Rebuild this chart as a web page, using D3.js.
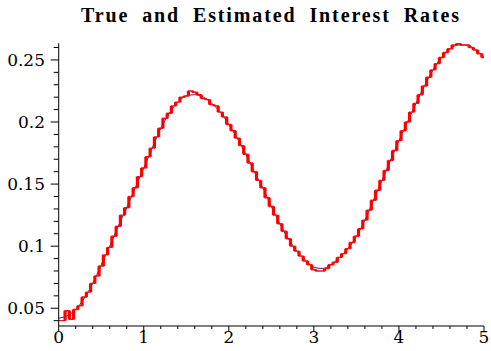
<!DOCTYPE html>
<html><head><meta charset="utf-8">
<script src="https://cdn.jsdelivr.net/npm/d3@7"></script>
<style>html,body{margin:0;padding:0;background:#fff;}svg{display:block;}</style>
</head><body>
<script>
// ---- data ----
const title = "True and Estimated Interest Rates";
const xTicks = [0, 1, 2, 3, 4, 5];
const xTickLabels = ["0", "1", "2", "3", "4", "5"];
const yTicks = [0.05, 0.10, 0.15, 0.20, 0.25];
const yTickLabels = ["0.05", "0.1", "0.15", "0.2", "0.25"];

// true rate, t = 0, 0.1, ..., 5.0
const trueT = [0.0,0.1,0.2,0.3,0.4,0.5,0.6,0.7,0.8,0.9,1.0,1.1,1.2,1.3,1.4,1.5,1.6,1.7,1.8,1.9,2.0,2.1,2.2,2.3,2.4,2.5,2.6,2.7,2.8,2.9,3.0,3.1,3.2,3.3,3.4,3.5,3.6,3.7,3.8,3.9,4.0,4.1,4.2,4.3,4.4,4.5,4.6,4.7,4.8,4.9,5.0];
const trueV = [0.042,0.044,0.049,0.058,0.070,0.085,0.100,0.116,0.131,0.147,0.163,0.179,0.195,0.207,0.216,0.221,0.222,0.220,0.215,0.208,0.198,0.187,0.174,0.160,0.147,0.132,0.118,0.106,0.096,0.089,0.083,0.082,0.085,0.091,0.098,0.108,0.121,0.137,0.153,0.169,0.185,0.200,0.215,0.229,0.242,0.252,0.259,0.262,0.262,0.258,0.252];

// estimated rate, t = 0, 0.05, ..., 5.0
const estT = [0.00,0.05,0.10,0.15,0.20,0.25,0.30,0.35,0.40,0.45,0.50,0.55,0.60,0.65,0.70,0.75,0.80,0.85,0.90,0.95,1.00,1.05,1.10,1.15,1.20,1.25,1.30,1.35,1.40,1.45,1.50,1.55,1.60,1.65,1.70,1.75,1.80,1.85,1.90,1.95,2.00,2.05,2.10,2.15,2.20,2.25,2.30,2.35,2.40,2.45,2.50,2.55,2.60,2.65,2.70,2.75,2.80,2.85,2.90,2.95,3.00,3.05,3.10,3.15,3.20,3.25,3.30,3.35,3.40,3.45,3.50,3.55,3.60,3.65,3.70,3.75,3.80,3.85,3.90,3.95,4.00,4.05,4.10,4.15,4.20,4.25,4.30,4.35,4.40,4.45,4.50,4.55,4.60,4.65,4.70,4.75,4.80,4.85,4.90,4.95,5.00];
const estV = [0.040,0.040,0.048,0.041,0.049,0.052,0.059,0.063,0.070,0.076,0.084,0.093,0.099,0.108,0.116,0.125,0.131,0.140,0.147,0.156,0.163,0.172,0.179,0.188,0.195,0.203,0.207,0.213,0.216,0.220,0.221,0.225,0.224,0.222,0.219,0.218,0.214,0.213,0.208,0.204,0.198,0.193,0.187,0.181,0.174,0.167,0.160,0.153,0.147,0.139,0.132,0.125,0.118,0.112,0.106,0.100,0.096,0.092,0.088,0.085,0.081,0.080,0.080,0.082,0.085,0.087,0.091,0.094,0.098,0.103,0.108,0.114,0.121,0.129,0.137,0.145,0.153,0.161,0.169,0.177,0.185,0.193,0.200,0.208,0.215,0.222,0.229,0.236,0.242,0.247,0.252,0.256,0.259,0.262,0.263,0.262,0.262,0.260,0.258,0.255,0.252];

// ---- drawing ----
const W = 491, H = 351;
const svg = d3.select("body").append("svg").attr("width", W).attr("height", H)
  .style("background", "#fff");

const x = d3.scaleLinear().domain([0, 5]).range([58.7, 484]);
const y = d3.scaleLinear().domain([0.0357, 0.2634]).range([326, 43.3]);

// title
svg.append("text").attr("x", 81).attr("y", 22)
  .attr("textLength", 378).attr("lengthAdjust", "spacing")
  .style("font-family", "'Liberation Serif', serif").style("font-weight", "bold")
  .style("font-size", "20px").style("word-spacing", "6px")
  .attr("fill", "#000").text(title);

// true line
const trueData = trueT.map((t, i) => [t, trueV[i]]);
svg.append("path").datum(trueData)
  .attr("fill", "none").attr("stroke", "#35208a").attr("stroke-width", 1)
  .attr("d", d3.line().x(d => x(d[0])).y(d => y(d[1])).curve(d3.curveMonotoneX));

// estimated: step line (thin horizontals) + thick vertical jumps
const estData = estT.map((t, i) => [t, estV[i]]);
svg.append("path").datum(estData)
  .attr("fill", "none").attr("stroke", "#ff1010").attr("stroke-width", 1.4)
  .attr("d", d3.line().x(d => x(d[0])).y(d => y(d[1])).curve(d3.curveStep));
const jumps = estData.slice(1).map((d, i) => ({t: (d[0] + estData[i][0]) / 2, v0: estData[i][1], v1: d[1]}));
svg.append("g").selectAll("line").data(jumps).join("line")
  .attr("x1", d => x(d.t)).attr("x2", d => x(d.t))
  .attr("y1", d => y(d.v0)).attr("y2", d => y(d.v1))
  .attr("stroke", "#ff0000").attr("stroke-width", 3.2);

// axes
const axG = svg.append("g").attr("stroke", "#000").attr("stroke-width", 1);
axG.append("line").attr("x1", x(0)).attr("x2", x(5)).attr("y1", y.range()[0]).attr("y2", y.range()[0]);
axG.append("line").attr("x1", x(0)).attr("x2", x(0)).attr("y1", y.range()[0]).attr("y2", y.range()[1]);

const xMinor = d3.range(0, 26).map(i => i * 0.2).filter(v => !xTicks.some(t => Math.abs(t - v) < 1e-9));
axG.selectAll(".xmin").data(xMinor).join("line")
  .attr("x1", d => x(d)).attr("x2", d => x(d)).attr("y1", y.range()[0]).attr("y2", y.range()[0] + 3);
axG.selectAll(".xmaj").data(xTicks).join("line")
  .attr("x1", d => x(d)).attr("x2", d => x(d)).attr("y1", y.range()[0]).attr("y2", y.range()[0] + 6);

const yMinor = d3.range(4, 27).map(i => i / 100).filter(v => !yTicks.some(t => Math.abs(t - v) < 1e-9));
axG.selectAll(".ymin").data(yMinor).join("line")
  .attr("x1", x(0) - 5).attr("x2", x(0)).attr("y1", d => y(d)).attr("y2", d => y(d));
axG.selectAll(".ymaj").data(yTicks).join("line")
  .attr("x1", x(0) - 8).attr("x2", x(0)).attr("y1", d => y(d)).attr("y2", d => y(d));

const lblFont = "'DejaVu Serif', serif";
svg.append("g").selectAll("text").data(xTicks).join("text")
  .attr("x", d => x(d)).attr("y", 343).attr("text-anchor", "middle")
  .style("font-family", lblFont).style("font-size", "17px").attr("fill", "#000")
  .text((d, i) => xTickLabels[i]);
svg.append("g").selectAll("text").data(yTicks).join("text")
  .attr("x", 45).attr("y", d => y(d)).attr("dy", "0.36em").attr("text-anchor", "end")
  .style("font-family", lblFont).style("font-size", "17px").attr("fill", "#000")
  .text((d, i) => yTickLabels[i]);
</script>
</body></html>
